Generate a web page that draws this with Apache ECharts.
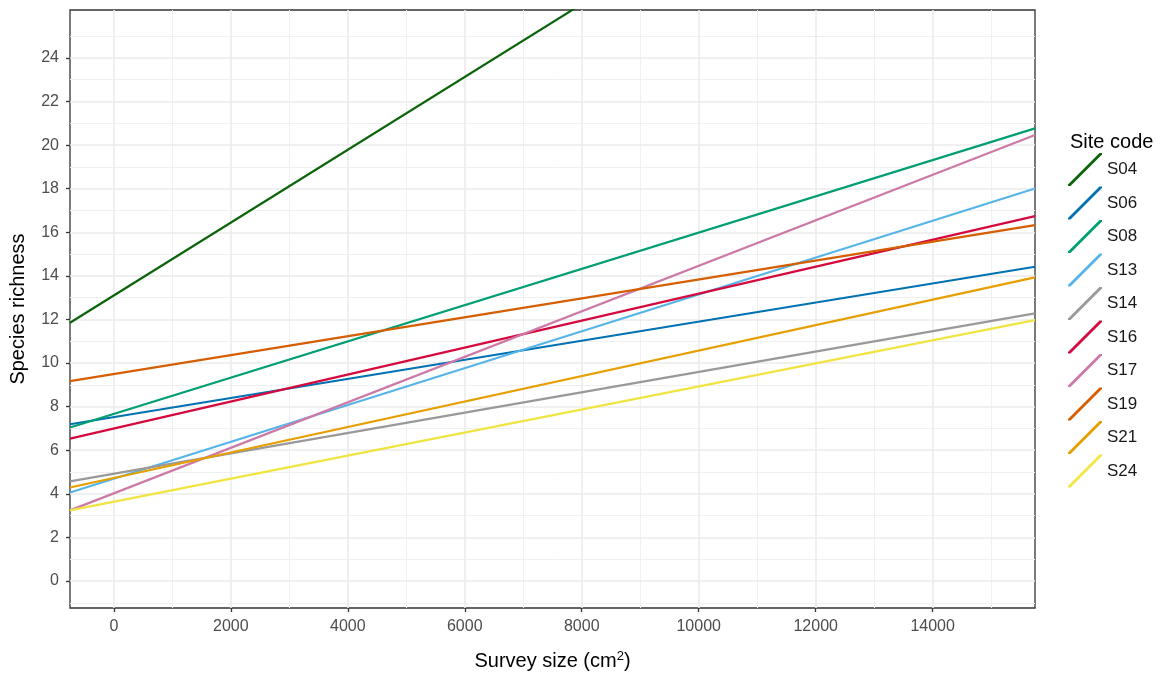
<!DOCTYPE html>
<html>
<head>
<meta charset="utf-8">
<script src="https://cdn.jsdelivr.net/npm/echarts@6/dist/echarts.min.js"></script>
<style>
html,body{margin:0;padding:0;background:#fff;}
#chart{width:1169px;height:677px;}
</style>
</head>
<body>
<div id="chart"></div>
<script>
// ---- data ----
const sites = ['S04','S06','S08','S13','S14','S16','S17','S19','S21','S24'];
const siteColors = ['#0A640A','#0072B2','#009E73','#56B4E9','#999999','#D40A3E','#CC79A7','#D55E00','#E69F00','#F0E442'];
// fitted line ends at the x-axis limits
const xEnds = [-750, 15750];
const richnessAtLeft  = [11.85, 7.19, 7.04, 4.06, 4.57, 6.53, 3.24, 9.17, 4.29, 3.24];
const richnessAtRight = [39.42, 14.42, 20.77, 18.01, 12.28, 16.74, 20.46, 16.33, 13.93, 11.97];
// axes
const xMin = -750, xMax = 15750;
const yMin = -1.24, yMax = 26.2;
const xTickValues = [0, 2000, 4000, 6000, 8000, 10000, 12000, 14000];
const xMinorValues = [1000, 3000, 5000, 7000, 9000, 11000, 13000, 15000];
const yTickValues = [0, 2, 4, 6, 8, 10, 12, 14, 16, 18, 20, 22, 24];
const yMinorValues = [-1, 1, 3, 5, 7, 9, 11, 13, 15, 17, 19, 21, 23, 25];

const FONT = "'Liberation Sans', Arial, sans-serif";
const chart = echarts.init(document.getElementById('chart'), null, {renderer: 'canvas'});

const gridMarks = [];
xMinorValues.forEach(v => gridMarks.push({xAxis: v, lineStyle: {width: 1, color: '#F0F0F0'}}));
yMinorValues.forEach(v => gridMarks.push({yAxis: v, lineStyle: {width: 1, color: '#F0F0F0'}}));
xTickValues.forEach(v => gridMarks.push({xAxis: v, lineStyle: {width: 1.6, color: '#EBEBEB'}}));
yTickValues.forEach(v => gridMarks.push({yAxis: v, lineStyle: {width: 1.6, color: '#EBEBEB'}}));

const legendIcon = 'path://M0,31.5 L31.5,0 L34,0 L34,1.5 L2.5,33 L0,33 Z';

const series = [{
  name: '__grid',
  type: 'line',
  data: [],
  z: 1,
  silent: true,
  markLine: {
    silent: true,
    z: 1,
    symbol: ['none', 'none'],
    label: {show: false},
    animation: false,
    lineStyle: {type: 'solid', opacity: 1},
    emphasis: {disabled: true},
    data: gridMarks
  }
}];
sites.forEach((s, i) => {
  series.push({
    name: s,
    type: 'line',
    z: 3,
    showSymbol: false,
    symbol: 'none',
    clip: true,
    animation: false,
    color: siteColors[i],
    itemStyle: {color: siteColors[i]},
    lineStyle: {color: siteColors[i], width: 2.2},
    emphasis: {disabled: true},
    data: [[xEnds[0], richnessAtLeft[i]], [xEnds[1], richnessAtRight[i]]]
  });
});

const plainNum = v => String(v);

chart.setOption({
  backgroundColor: '#ffffff',
  animation: false,
  title: {
    text: 'Site code',
    left: 1065,
    top: 127,
    textStyle: {fontFamily: FONT, fontSize: 20, fontWeight: 'normal', color: '#000'}
  },
  legend: {
    orient: 'vertical',
    left: 1068,
    top: 153,
    itemWidth: 34,
    itemHeight: 33,
    itemGap: 0.5,
    padding: 0,
    data: sites.map(s => ({name: s, icon: legendIcon})),
    itemStyle: {borderWidth: 0},
    lineStyle: {width: 0},
    textStyle: {fontFamily: FONT, fontSize: 17, color: '#1a1a1a'},
    selectedMode: false
  },
  grid: {
    left: 70, top: 10, right: 134, bottom: 69,
    show: true,
    borderColor: '#333333',
    borderWidth: 1.3,
    backgroundColor: '#ffffff',
    containLabel: false
  },
  xAxis: {
    type: 'value',
    min: xMin, max: xMax,
    name: 'Survey size (cm{sup|2})',
    nameLocation: 'middle',
    nameGap: 42,
    nameTextStyle: {
      fontFamily: FONT, fontSize: 20, color: '#000',
      rich: {sup: {fontFamily: FONT, fontSize: 13, verticalAlign: 'top', padding: [0, 0, 10, 0], color: '#000'}}
    },
    axisLine: {show: false, onZero: false},
    axisTick: {show: true, length: 4, customValues: xTickValues, lineStyle: {color: '#333333', width: 1.3}},
    axisLabel: {show: true, customValues: xTickValues, formatter: plainNum, margin: 11, fontFamily: FONT, fontSize: 16, color: '#4D4D4D'},
    splitLine: {show: false},
    minorSplitLine: {show: false}
  },
  yAxis: {
    type: 'value',
    min: yMin, max: yMax,
    name: 'Species richness',
    nameLocation: 'middle',
    nameRotate: 90,
    nameGap: 42,
    nameTextStyle: {fontFamily: FONT, fontSize: 20, color: '#000'},
    axisLine: {show: false, onZero: false},
    axisTick: {show: true, length: 4, customValues: yTickValues, lineStyle: {color: '#333333', width: 1.3}},
    axisLabel: {show: true, customValues: yTickValues, formatter: plainNum, margin: 11, fontFamily: FONT, fontSize: 16, color: '#4D4D4D'},
    splitLine: {show: false},
    minorSplitLine: {show: false}
  },
  series: series
});
</script>
</body>
</html>
